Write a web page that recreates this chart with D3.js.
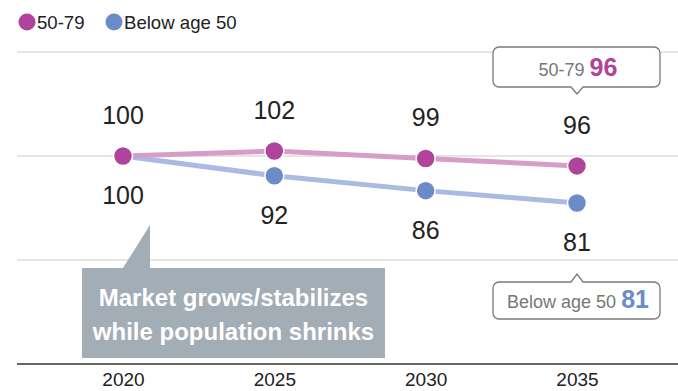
<!DOCTYPE html>
<html>
<head>
<meta charset="utf-8">
<script src="https://cdn.jsdelivr.net/npm/d3@7"></script>
<style>
  body { margin: 0; background: #fff; }
  svg { display: block; font-family: "Liberation Sans", Arial, sans-serif; }
</style>
</head>
<body>
<div id="wrapper"></div>
<script>
'use strict';

// data
const years = [2020, 2025, 2030, 2035];
const olderValues = [100, 102, 99, 96];     // 50-79
const youngerValues = [100, 92, 86, 81];    // Below age 50
const seriesNames = ['50-79', 'Below age 50'];
const noteLines = ['Market grows/stabilizes', 'while population shrinks'];

function drawChart () {
  const dimensions = { width: 678, height: 391 };

  const colors = {
    older: '#b0439b',
    olderLine: '#d79dc9',
    younger: '#6b8bc9',
    youngerLine: '#a9bbe2',
    grid: '#cccccc',
    note: '#a3adb6',
  };

  const xScale = d3.scaleLinear()
    .domain([2020, 2035])
    .range([123, 577]);

  const yScale = d3.scaleLinear()
    .domain([100, 81])
    .range([156, 203]);

  // grid rows are unlabeled, evenly spaced
  const gridScale = d3.scaleLinear()
    .domain([0, 3])
    .range([52, 364]);

  const wrapper = d3.select('#wrapper')
    .append('svg')
    .attr('width', dimensions.width)
    .attr('height', dimensions.height);

  // gridlines
  wrapper.append('g')
    .selectAll('line')
    .data([0, 1, 2])
    .join('line')
    .attr('x1', 17)
    .attr('x2', dimensions.width)
    .attr('y1', d => gridScale(d))
    .attr('y2', d => gridScale(d))
    .attr('stroke', colors.grid)
    .attr('stroke-width', 1.2);

  // x axis
  const xAxis = wrapper.append('g')
    .attr('transform', `translate(0, ${gridScale(3)})`)
    .call(d3.axisBottom(xScale).tickValues(years).tickFormat(d3.format('d')).tickSize(0).tickPadding(9));
  xAxis.select('.domain').remove();
  xAxis.append('line')
    .attr('x1', 17)
    .attr('x2', dimensions.width)
    .attr('stroke', '#333')
    .attr('stroke-width', 1.5);
  xAxis.selectAll('text')
    .attr('font-size', 19)
    .attr('font-family', '"Liberation Sans", Arial, sans-serif')
    .attr('fill', '#222');

  // note box
  const noteTop = 268;
  const noteBottom = 358;
  const noteLeft = 82;
  const noteRight = 385;
  const px = xScale(2020);
  wrapper.append('path')
    .attr('d', `M${px},${noteTop} L${px + 27},${yScale(100) + 69} L${px + 27},${noteTop} Z`)
    .attr('fill', colors.note);
  wrapper.append('rect')
    .attr('x', noteLeft)
    .attr('y', noteTop)
    .attr('width', noteRight - noteLeft)
    .attr('height', noteBottom - noteTop)
    .attr('fill', colors.note);
  wrapper.append('text')
    .attr('x', (noteLeft + noteRight) / 2)
    .attr('text-anchor', 'middle')
    .attr('font-size', 24)
    .attr('font-weight', 'bold')
    .attr('fill', '#fff')
    .selectAll('tspan')
    .data(noteLines)
    .join('tspan')
    .attr('x', (noteLeft + noteRight) / 2)
    .attr('y', (d, i) => 306 + i * 34)
    .text(d => d);

  // lines
  const olderData = years.map((year, i) => ({ year, value: olderValues[i] }));
  const youngerData = years.map((year, i) => ({ year, value: youngerValues[i] }));

  const lineGenerator = d3.line()
    .x(d => xScale(d.year))
    .y(d => yScale(d.value));

  wrapper.append('path')
    .attr('d', lineGenerator(youngerData))
    .attr('fill', 'none')
    .attr('stroke', colors.youngerLine)
    .attr('stroke-width', 5);

  wrapper.append('path')
    .attr('d', lineGenerator(olderData))
    .attr('fill', 'none')
    .attr('stroke', colors.olderLine)
    .attr('stroke-width', 5);

  // dots
  const drawDots = (data, color) => {
    wrapper.append('g')
      .selectAll('circle')
      .data(data)
      .join('circle')
      .attr('cx', d => xScale(d.year))
      .attr('cy', d => yScale(d.value))
      .attr('r', 9.5)
      .attr('fill', color)
      .attr('stroke', '#fff')
      .attr('stroke-width', 1.5);
  };
  drawDots(youngerData.slice(1), colors.younger);
  drawDots(olderData, colors.older);

  // value labels
  wrapper.append('g')
    .selectAll('text')
    .data(olderData)
    .join('text')
    .attr('x', d => xScale(d.year))
    .attr('y', d => yScale(d.value) - 32)
    .attr('text-anchor', 'middle')
    .attr('font-size', 25)
    .attr('fill', '#222')
    .text(d => d.value);

  wrapper.append('g')
    .selectAll('text')
    .data(youngerData)
    .join('text')
    .attr('x', d => xScale(d.year))
    .attr('y', d => yScale(d.value) + 48)
    .attr('text-anchor', 'middle')
    .attr('font-size', 25)
    .attr('fill', '#222')
    .text(d => d.value);

  // callouts
  const calloutPath = (x0, y0, x1, y1, tipX, tipY, up) => {
    const r = 6;
    const hw = 6;
    const p = d3.path();
    p.moveTo(x0 + r, y0);
    if (up) {
      p.lineTo(tipX - hw, y0);
      p.lineTo(tipX, tipY);
      p.lineTo(tipX + hw, y0);
    }
    p.lineTo(x1 - r, y0);
    p.arcTo(x1, y0, x1, y0 + r, r);
    p.lineTo(x1, y1 - r);
    p.arcTo(x1, y1, x1 - r, y1, r);
    if (!up) {
      p.lineTo(tipX + hw, y1);
      p.lineTo(tipX, tipY);
      p.lineTo(tipX - hw, y1);
    }
    p.lineTo(x0 + r, y1);
    p.arcTo(x0, y1, x0, y1 - r, r);
    p.lineTo(x0, y0 + r);
    p.arcTo(x0, y0, x0 + r, y0, r);
    p.closePath();
    return p.toString();
  };

  const lastX = xScale(2035);
  const drawCallout = (name, value, color, y0, y1, tipY, up) => {
    const g = wrapper.append('g');
    g.append('path')
      .attr('d', calloutPath(lastX - 84, y0, lastX + 83, y1, lastX, tipY, up))
      .attr('fill', '#fff')
      .attr('stroke', '#7a7a7a')
      .attr('stroke-width', 1.3);
    const t = g.append('text')
      .attr('x', lastX + 1)
      .attr('y', y1 - 11)
      .attr('text-anchor', 'middle');
    t.append('tspan')
      .attr('font-size', 18)
      .attr('fill', '#777')
      .text(name + ' ');
    t.append('tspan')
      .attr('font-size', 25)
      .attr('font-weight', 'bold')
      .attr('fill', color)
      .text(value);
  };
  drawCallout(seriesNames[0], olderValues[3], colors.older, 47, 87, 94, false);
  drawCallout(seriesNames[1], youngerValues[3], colors.younger, 282, 319, 274, true);

  // legend
  const legend = wrapper.append('g');
  const legendItems = [
    { name: seriesNames[0], color: colors.older, x: 27 },
    { name: seriesNames[1], color: colors.younger, x: 114 },
  ];
  legend.selectAll('circle')
    .data(legendItems)
    .join('circle')
    .attr('cx', d => d.x)
    .attr('cy', 22)
    .attr('r', 8.5)
    .attr('fill', d => d.color);
  legend.selectAll('text')
    .data(legendItems)
    .join('text')
    .attr('x', d => d.x + 10)
    .attr('y', 29)
    .attr('font-size', 18.6)
    .attr('fill', '#222')
    .text(d => d.name);
}

drawChart();
</script>
</body>
</html>
